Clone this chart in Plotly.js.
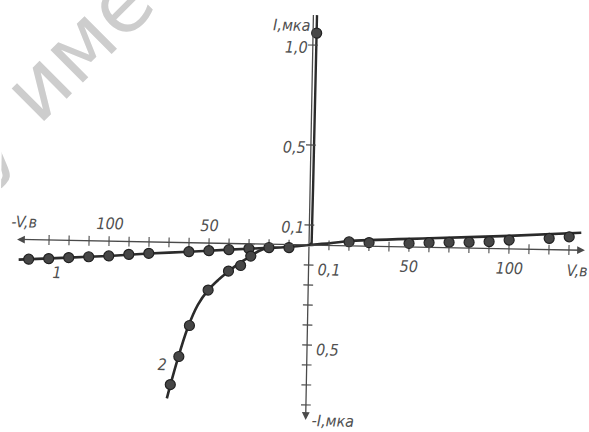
<!DOCTYPE html>
<html><head><meta charset="utf-8">
<script src="https://cdn.plot.ly/plotly-3.0.1.min.js"></script>
<style>
html,body{margin:0;padding:0;background:#fff;overflow:hidden}
#chart{width:589px;height:432px;transform:rotate(1.1deg);transform-origin:309px 245px}
</style>
</head><body><div id="chart"></div>
<script>
// ---- data (V in volts, I in microamperes) ----
// curve 1: measured points
const v1 = [-140,-130,-120,-110,-100,-90,-80,-60,-50,-40,-30,-20,-10, 20,30,50,60,70,80,90,100,120,130];
const i1 = [-0.098,-0.093,-0.086,-0.080,-0.074,-0.064,-0.057,-0.045,-0.038,-0.031,-0.024,-0.017,-0.015,
            0.020,0.018,0.018,0.023,0.027,0.029,0.034,0.044,0.056,0.066];
// curve 1: drawn line
const line1V = [-145,-120,-100,-80,-60,-40,-20,-10,0,10,20,60,100,136];
const line1I = [-0.101,-0.086,-0.074,-0.058,-0.045,-0.031,-0.018,-0.012,0,0.010,0.024,0.045,0.065,0.087];
// curve 2: measured points
const v2 = [-29,-34,-40,-50,-59,-64,-68, 1.8];
const i2 = [-0.061,-0.109,-0.138,-0.235,-0.414,-0.570,-0.711, 1.06];
// curve 2: drawn line, reverse branch
const line2V = [-20,-25,-30,-35,-40,-45,-50,-55,-60,-65,-69.6];
const line2I = [-0.018,-0.035,-0.068,-0.100,-0.140,-0.183,-0.235,-0.310,-0.430,-0.600,-0.780];
// curve 2: forward branch (steep rise)
const fwd2V = [0,1.3,1.5,1.8];
const fwd2I = [0,0.010,0.300,1.150];
// axis ticks and labels
const xTicks = [-130,-120,-110,-100,-90,-80,-70,-60,-50,-40,-30,-20,-10,10,20,30,40,50,60,70,80,90,100,110,120,130];
const yTicks = [0.1,0.5,1.0,-0.1,-0.2,-0.3,-0.4,-0.5,-0.6,-0.7,-0.8];
const xLabelVals = [-100,-50,50,100];
const xLabelText = ['100','50','50','100'];
const yLabelVals = [0.1,0.5,1.0,-0.1,-0.5];
const yLabelText = ['0,1','0,5','1,0','0,1','0,5'];

const ink = '#2b2b2b', axisInk = '#4a4a4a', txtInk = '#505050';
const F = {family:'Liberation Sans Narrow, Arial Narrow, DejaVu Sans Condensed, sans-serif', size:16, color:txtInk, style:'italic'};

const traces = [
  {x:line1V, y:line1I, mode:'lines', line:{color:ink, width:2.6, shape:'spline', smoothing:0.6}, hoverinfo:'skip'},
  {x:line2V, y:line2I, mode:'lines', line:{color:ink, width:2.6, shape:'spline', smoothing:1}, hoverinfo:'skip'},
  {x:fwd2V, y:fwd2I, mode:'lines', line:{color:ink, width:2.4}, hoverinfo:'skip'},
  {x:xTicks, y:xTicks.map(()=>0), mode:'markers', marker:{symbol:'line-ns', size:7, line:{color:axisInk, width:1.1}}, hoverinfo:'skip'},
  {x:yTicks.map(()=>0), y:yTicks, mode:'markers', marker:{symbol:'line-ew', size:7, line:{color:axisInk, width:1.1}}, hoverinfo:'skip'},
  {x:v1, y:i1, mode:'markers', marker:{size:10, color:'#464646', line:{color:'#222', width:1.2}}, name:'1'},
  {x:v2, y:i2, mode:'markers', marker:{size:10, color:'#464646', line:{color:'#222', width:1.2}}, name:'2'}
];

const ann = [];
// axis arrows
const arrow = (x,y,ax,ay,head)=>({x:x,y:y,ax:ax,ay:ay,xref:'x',yref:'y',axref:'x',ayref:'y',text:'',
  showarrow:true,arrowhead:head,arrowsize:1.2,arrowwidth:1.3,arrowcolor:axisInk,standoff:0,startstandoff:0});
ann.push(arrow(-146,0,0,0,2));
ann.push(arrow(138,0,0,0,2));
ann.push(arrow(0,-0.875,0,0,2));
ann.push(arrow(0,1.15,0,0,0));
// x tick labels
xLabelVals.forEach((v,k)=>{
  ann.push({x:v, y:v<0?0.088:-0.097, xref:'x', yref:'y', text:xLabelText[k], showarrow:false, font:F});
});
// y tick labels
yLabelVals.forEach((v,k)=>{
  const pos = v>0;
  ann.push({x:pos?-1.3:3.5, y:pos?v-0.012:v-0.02, xref:'x', yref:'y', text:yLabelText[k], showarrow:false,
    xanchor:pos?'right':'left', font:F});
});
// axis titles
ann.push({x:-0.6, y:1.10, xref:'x', yref:'y', text:'I,мка', showarrow:false, xanchor:'right', font:F});
ann.push({x:2.2, y:-0.877, xref:'x', yref:'y', text:'-I,мка', showarrow:false, xanchor:'left', font:F});
ann.push({x:134, y:-0.100, xref:'x', yref:'y', text:'V,в', showarrow:false, font:F});
ann.push({x:-142.5, y:0.089, xref:'x', yref:'y', text:'-V,в', showarrow:false, font:F});
// curve numbers
ann.push({x:-126, y:-0.162, xref:'x', yref:'y', text:'1', showarrow:false, font:F});
ann.push({x:-72.3, y:-0.614, xref:'x', yref:'y', text:'2', showarrow:false, font:F});
// watermark (scanned page stamp)
ann.push({x:-130.5, y:0.835, xref:'x', yref:'y', text:'у име', showarrow:false, textangle:-46,
  font:{family:'DejaVu Sans, sans-serif', size:84, color:'#cdcdcd'}});

const layout = {
  width:589, height:432, margin:{l:0,r:0,t:0,b:0},
  paper_bgcolor:'#ffffff', plot_bgcolor:'#ffffff', showlegend:false,
  xaxis:{range:[-154.5,140], visible:false, fixedrange:true},
  yaxis:{range:[-0.935,1.225], visible:false, fixedrange:true},
  annotations:ann
};
Plotly.newPlot('chart', traces, layout, {staticPlot:true, displayModeBar:false});
</script>
</body></html>
